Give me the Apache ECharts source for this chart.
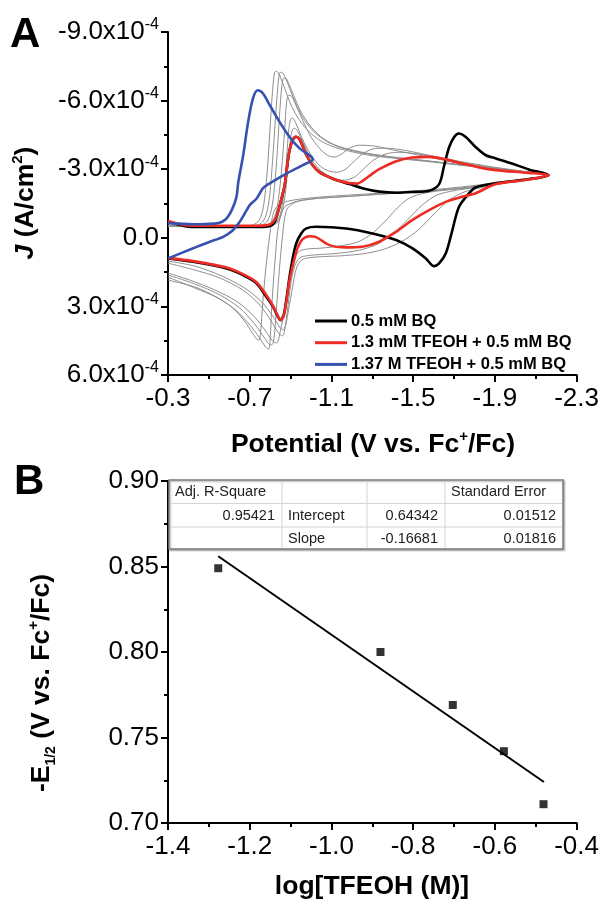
<!DOCTYPE html>
<html><head><meta charset="utf-8">
<script src="https://cdn.jsdelivr.net/npm/echarts@6/dist/echarts.min.js"></script>
<style>html,body{margin:0;padding:0;background:#fff}#c{width:602px;height:904px}</style>
</head><body><div id="c"></div>
<script>
const FONT = '"Liberation Sans", Arial, Helvetica, sans-serif';

// ---------- Panel A: cyclic voltammograms ----------
// [E (V vs. Fc+/Fc), J (x10^-4 A/cm^2)]
const cvXTicks = [-0.3, -0.7, -1.1, -1.5, -1.9, -2.3];
const cvXMinor = [-0.5, -0.9, -1.3, -1.7, -2.1];

const black05BQ = [
[-0.300,-0.70],[-0.383,-0.51],[-0.456,-0.47],[-0.602,-0.47],[-0.749,-0.47],[-0.798,-0.51],[-0.822,-0.69],[-0.841,-1.21],[-0.856,-1.73],[-0.871,-2.30],[-0.885,-3.26],[-0.895,-3.83],[-0.910,-4.27],[-0.927,-4.42],[-0.944,-4.31],[-0.959,-4.01],[-0.978,-3.61],[-1.007,-3.18],[-1.041,-2.87],[-1.090,-2.65],[-1.139,-2.48],[-1.188,-2.35],[-1.251,-2.17],[-1.334,-2.02],[-1.417,-1.97],[-1.495,-2.00],[-1.578,-2.06],[-1.627,-2.35],[-1.651,-3.13],[-1.676,-3.96],[-1.700,-4.40],[-1.724,-4.56],[-1.759,-4.40],[-1.807,-3.96],[-1.856,-3.61],[-1.905,-3.47],[-1.983,-3.25],[-2.066,-2.99],[-2.163,-2.74],
[-2.066,-2.56],[-1.905,-2.39],[-1.807,-2.21],[-1.773,-1.94],[-1.724,-1.35],[-1.692,-0.34],[-1.660,0.68],[-1.627,1.12],[-1.602,1.24],[-1.562,0.90],[-1.497,0.46],[-1.416,0.10],[-1.301,-0.19],[-1.172,-0.41],[-1.025,-0.48],[-0.977,-0.41],[-0.952,-0.19],[-0.928,0.24],[-0.912,0.83],[-0.895,1.70],[-0.879,2.72],[-0.866,3.38],[-0.850,3.60],[-0.838,3.45],[-0.814,3.01],[-0.781,2.58],[-0.733,1.99],[-0.667,1.63],[-0.586,1.34],[-0.423,1.05],[-0.301,0.90]
];

const red13TFEOH = [
[-0.300,-0.73],[-0.383,-0.55],[-0.456,-0.53],[-0.602,-0.53],[-0.749,-0.53],[-0.798,-0.58],[-0.822,-0.77],[-0.841,-1.21],[-0.856,-1.73],[-0.871,-2.30],[-0.885,-3.26],[-0.895,-3.83],[-0.910,-4.27],[-0.927,-4.42],[-0.944,-4.31],[-0.959,-4.01],[-0.978,-3.61],[-1.007,-3.18],[-1.041,-2.87],[-1.090,-2.65],[-1.139,-2.48],[-1.188,-2.39],[-1.227,-2.37],[-1.251,-2.48],[-1.285,-2.70],[-1.334,-3.00],[-1.417,-3.35],[-1.495,-3.51],[-1.578,-3.54],[-1.660,-3.43],[-1.740,-3.25],[-1.822,-3.08],[-1.903,-2.96],[-2.066,-2.84],[-2.163,-2.74],
[-2.066,-2.55],[-1.905,-2.35],[-1.806,-1.95],[-1.739,-1.79],[-1.660,-1.57],[-1.578,-1.21],[-1.495,-0.77],[-1.416,-0.26],[-1.334,0.17],[-1.251,0.39],[-1.172,0.42],[-1.090,0.32],[-1.025,-0.03],[-0.993,-0.07],[-0.959,0.06],[-0.934,0.45],[-0.915,1.06],[-0.895,1.85],[-0.879,2.81],[-0.866,3.42],[-0.851,3.60],[-0.838,3.42],[-0.814,2.98],[-0.781,2.50],[-0.733,1.94],[-0.667,1.59],[-0.586,1.30],[-0.423,1.02],[-0.301,0.89]
];

const blue137TFEOH = [
[-0.300,-0.64],[-0.422,-0.59],[-0.529,-0.62],[-0.563,-0.69],[-0.588,-0.86],[-0.612,-1.21],[-0.635,-1.78],[-0.644,-2.43],[-0.668,-3.61],[-0.692,-5.05],[-0.716,-6.10],[-0.740,-6.45],[-0.765,-6.31],[-0.798,-5.80],[-0.846,-5.07],[-0.895,-4.41],[-0.944,-3.91],[-1.009,-3.44],
[-0.960,-3.18],[-0.879,-2.81],[-0.798,-2.38],[-0.765,-2.17],[-0.734,-1.72],[-0.700,-1.43],[-0.685,-1.21],[-0.651,-0.70],[-0.619,-0.34],[-0.570,-0.04],[-0.505,0.17],[-0.423,0.46],[-0.301,0.90]
];

const grey1 = [
[-0.300,-0.51],[-0.456,-0.51],[-0.651,-0.51],[-0.710,-0.55],[-0.739,-0.69],[-0.759,-1.04],[-0.773,-1.73],[-0.788,-3.18],[-0.802,-5.14],[-0.812,-6.45],[-0.822,-7.24],[-0.832,-7.28],[-0.846,-7.11],[-0.871,-6.54],[-0.905,-5.75],[-0.944,-5.14],[-0.993,-4.62],[-1.051,-4.22],[-1.115,-3.96],[-1.188,-3.79],[-1.285,-3.61],[-1.407,-3.48],[-1.554,-3.35],[-1.724,-3.18],[-1.920,-3.00],[-2.066,-2.87],[-2.163,-2.74],
[-2.066,-2.61],[-1.920,-2.43],[-1.773,-2.26],[-1.627,-2.13],[-1.480,-2.04],[-1.334,-1.95],[-1.188,-1.87],[-1.041,-1.78],[-0.944,-1.69],[-0.885,-1.60],[-0.846,-1.47],[-0.817,-1.12],[-0.798,-0.12],[-0.778,1.41],[-0.763,2.94],[-0.754,4.03],[-0.746,4.47],[-0.734,4.43],[-0.710,4.12],[-0.671,3.60],[-0.612,3.03],[-0.529,2.55],[-0.432,2.15],[-0.300,1.85]
];
const grey2 = [
[-0.300,-0.51],[-0.456,-0.51],[-0.676,-0.51],[-0.734,-0.55],[-0.763,-0.69],[-0.783,-1.08],[-0.798,-1.87],[-0.812,-3.39],[-0.827,-5.36],[-0.837,-6.54],[-0.846,-7.20],[-0.856,-7.24],[-0.871,-7.06],[-0.895,-6.54],[-0.929,-5.80],[-0.968,-5.14],[-1.017,-4.62],[-1.076,-4.22],[-1.139,-3.96],[-1.212,-3.79],[-1.310,-3.61],[-1.432,-3.48],[-1.578,-3.35],[-1.749,-3.18],[-1.920,-3.00],[-2.066,-2.87],[-2.163,-2.74],
[-2.066,-2.59],[-1.920,-2.39],[-1.773,-2.21],[-1.627,-2.08],[-1.480,-2.00],[-1.334,-1.91],[-1.188,-1.82],[-1.041,-1.73],[-0.959,-1.65],[-0.905,-1.52],[-0.866,-1.30],[-0.841,-0.55],[-0.822,1.20],[-0.807,3.16],[-0.800,4.47],[-0.793,4.86],[-0.778,4.78],[-0.749,4.38],[-0.700,3.81],[-0.632,3.16],[-0.544,2.63],[-0.432,2.20],[-0.300,1.72]
];
const grey3 = [
[-0.300,-0.51],[-0.480,-0.51],[-0.700,-0.51],[-0.754,-0.55],[-0.783,-0.69],[-0.802,-1.08],[-0.817,-1.87],[-0.832,-3.39],[-0.846,-5.36],[-0.856,-6.54],[-0.866,-6.98],[-0.876,-6.98],[-0.890,-6.76],[-0.915,-6.23],[-0.949,-5.54],[-0.993,-4.93],[-1.046,-4.44],[-1.110,-4.09],[-1.183,-3.88],[-1.276,-3.70],[-1.407,-3.53],[-1.568,-3.37],[-1.749,-3.18],[-1.920,-3.00],[-2.066,-2.87],[-2.163,-2.74],
[-2.066,-2.58],[-1.920,-2.38],[-1.773,-2.21],[-1.627,-2.08],[-1.480,-1.99],[-1.334,-1.90],[-1.188,-1.81],[-1.041,-1.73],[-0.963,-1.64],[-0.915,-1.52],[-0.880,-1.21],[-0.861,-0.12],[-0.841,1.85],[-0.827,3.60],[-0.815,4.60],[-0.802,4.69],[-0.773,4.38],[-0.724,3.77],[-0.651,3.07],[-0.554,2.50],[-0.432,2.02],[-0.300,1.63]
];
const grey4 = [
[-0.300,-0.51],[-0.505,-0.51],[-0.724,-0.51],[-0.778,-0.55],[-0.807,-0.69],[-0.827,-1.04],[-0.841,-1.73],[-0.856,-2.96],[-0.871,-4.71],[-0.880,-5.89],[-0.890,-6.23],[-0.905,-6.19],[-0.924,-5.84],[-0.959,-5.14],[-0.998,-4.44],[-1.041,-3.92],[-1.080,-3.61],[-1.115,-3.53],[-1.149,-3.66],[-1.188,-3.92],[-1.237,-4.05],[-1.310,-4.01],[-1.407,-3.83],[-1.554,-3.57],[-1.724,-3.26],[-1.920,-3.00],[-2.066,-2.87],[-2.163,-2.74],
[-2.066,-2.56],[-1.920,-2.37],[-1.773,-2.19],[-1.651,-2.08],[-1.554,-1.95],[-1.480,-1.73],[-1.422,-1.30],[-1.359,-0.69],[-1.295,-0.16],[-1.227,0.19],[-1.139,0.36],[-1.051,0.45],[-0.983,0.49],[-0.944,0.58],[-0.920,0.89],[-0.900,1.63],[-0.876,2.94],[-0.851,4.03],[-0.832,4.60],[-0.812,4.51],[-0.778,4.08],[-0.724,3.46],[-0.641,2.81],[-0.529,2.28],[-0.407,1.85],[-0.300,1.54]
];
const grey5 = [
[-0.300,-0.51],[-0.529,-0.51],[-0.759,-0.51],[-0.807,-0.55],[-0.832,-0.69],[-0.851,-1.08],[-0.866,-1.87],[-0.880,-3.39],[-0.890,-4.62],[-0.900,-5.19],[-0.910,-5.23],[-0.924,-5.05],[-0.944,-4.62],[-0.973,-4.05],[-1.007,-3.53],[-1.046,-3.13],[-1.090,-2.91],[-1.129,-2.87],[-1.168,-3.00],[-1.207,-3.31],[-1.251,-3.66],[-1.300,-3.88],[-1.368,-3.92],[-1.456,-3.83],[-1.578,-3.61],[-1.724,-3.35],[-1.895,-3.09],[-2.041,-2.91],[-2.163,-2.74],
[-2.066,-2.56],[-1.920,-2.37],[-1.798,-2.19],[-1.700,-2.06],[-1.617,-1.87],[-1.544,-1.43],[-1.471,-0.77],[-1.398,-0.16],[-1.324,0.28],[-1.237,0.54],[-1.139,0.67],[-1.051,0.73],[-0.983,0.78],[-0.944,0.89],[-0.920,1.24],[-0.900,2.07],[-0.885,3.16],[-0.871,4.03],[-0.861,4.29],[-0.841,4.16],[-0.802,3.60],[-0.749,2.94],[-0.666,2.28],[-0.554,1.76],[-0.432,1.41],[-0.300,1.11]
];
const grey6 = [
[-0.300,-0.53],[-0.554,-0.53],[-0.778,-0.53],[-0.822,-0.58],[-0.841,-0.73],[-0.861,-1.21],[-0.876,-2.08],[-0.890,-3.39],[-0.900,-4.36],[-0.910,-4.75],[-0.920,-4.79],[-0.934,-4.66],[-0.959,-4.22],[-0.988,-3.66],[-1.027,-3.13],[-1.071,-2.78],[-1.120,-2.56],[-1.168,-2.52],[-1.212,-2.65],[-1.256,-3.00],[-1.305,-3.39],[-1.363,-3.66],[-1.432,-3.74],[-1.529,-3.66],[-1.676,-3.39],[-1.846,-3.13],[-2.017,-2.91],[-2.163,-2.74],
[-2.066,-2.56],[-1.920,-2.35],[-1.822,-2.17],[-1.749,-2.00],[-1.676,-1.65],[-1.602,-1.04],[-1.529,-0.38],[-1.456,0.10],[-1.373,0.45],[-1.276,0.67],[-1.163,0.78],[-1.066,0.82],[-0.993,0.87],[-0.954,0.97],[-0.929,1.32],[-0.910,2.15],[-0.890,3.16],[-0.876,3.81],[-0.863,4.03],[-0.846,3.90],[-0.812,3.42],[-0.759,2.81],[-0.676,2.20],[-0.563,1.67],[-0.432,1.24],[-0.300,1.02]
];

// ---------- Panel B: -E1/2 vs log[TFEOH] ----------
const logTFEOH = [-1.277, -0.880, -0.703, -0.578, -0.481];
const negE12 = [0.849, 0.800, 0.769, 0.742, 0.711];
const fitLineEnds = [[-1.277, 0.856], [-0.480, 0.724]];
const fitTable = [
  ['Adj. R-Square', '', '', 'Standard Error'],
  ['0.95421', 'Intercept', '0.64342', '0.01512'],
  ['', 'Slope', '-0.16681', '0.01816']
];

const legendNames = ['0.5 mM BQ', '1.3 mM TFEOH + 0.5 mM BQ', '1.37 M TFEOH + 0.5 mM BQ'];

const chart = echarts.init(document.getElementById('c'), null, {renderer: 'canvas'});

const axisLineStyle = {color: '#000', width: 2};
const tickLabel = {color: '#000', fontSize: 26, fontFamily: FONT};

function greySeries(name, data) {
  return {name, type: 'line', xAxisIndex: 0, yAxisIndex: 0, data, showSymbol: false, symbol: 'none',
    smooth: 0.3, lineStyle: {color: '#8e8e8e', width: 1}, z: 2, silent: true};
}
function mainSeries(name, data, color, z) {
  return {name, type: 'line', xAxisIndex: 0, yAxisIndex: 0, data, showSymbol: false, symbol: 'none',
    smooth: 0.3, lineStyle: {color, width: 2.6}, itemStyle: {color}, z};
}

// table graphics
const colX = [169, 282, 367, 445, 563];
const rowY = [480, 503.5, 527, 549];
const tableEls = [];
tableEls.push({type: 'rect', shape: {x: colX[0], y: rowY[0], width: colX[4] - colX[0], height: rowY[3] - rowY[0]},
  style: {fill: '#fff', stroke: '#808080', lineWidth: 1.5, shadowBlur: 2, shadowOffsetX: 1, shadowOffsetY: 1, shadowColor: 'rgba(0,0,0,0.35)'}, z: 10});
for (let r = 1; r < 3; r++) tableEls.push({type: 'line', shape: {x1: colX[0] + 1, y1: rowY[r], x2: colX[4] - 1, y2: rowY[r]}, style: {stroke: '#d4d4d4', lineWidth: 1}, z: 11});
for (let c = 1; c < 4; c++) tableEls.push({type: 'line', shape: {x1: colX[c], y1: rowY[0] + 1, x2: colX[c], y2: rowY[3] - 1}, style: {stroke: '#d4d4d4', lineWidth: 1}, z: 11});
fitTable.forEach((row, r) => {
  row.forEach((txt, c) => {
    if (!txt) return;
    const leftAligned = (r === 0) || c === 1;
    const x = leftAligned ? colX[c] + 6 : colX[c + 1] - 7;
    tableEls.push({type: 'text', x, y: (rowY[r] + rowY[r + 1]) / 2 + 0.5, z: 12,
      style: {text: txt, fontSize: 14.5, fontFamily: FONT, fill: '#222', align: leftAligned ? 'left' : 'right', verticalAlign: 'middle'}});
  });
});

const titleRich = {
  t: {fontSize: 26.5, fontWeight: 'bold', fontFamily: FONT, fill: '#000', lineHeight: 32},
  i: {fontSize: 26.5, fontWeight: 'bold', fontStyle: 'italic', fontFamily: FONT, fill: '#000', lineHeight: 32},
  sup: {fontSize: 15, fontWeight: 'bold', fontFamily: FONT, fill: '#000', lineHeight: 18, verticalAlign: 'top'},
  sub: {fontSize: 14, fontWeight: 'bold', fontFamily: FONT, fill: '#000', lineHeight: 15, verticalAlign: 'bottom'}
};

const textEls = [
  {type: 'text', x: 10, y: 35, style: {text: 'A', fontSize: 42, fontWeight: 'bold', fontFamily: FONT, fill: '#000', align: 'left', verticalAlign: 'middle'}},
  {type: 'text', x: 14, y: 482, style: {text: 'B', fontSize: 42, fontWeight: 'bold', fontFamily: FONT, fill: '#000', align: 'left', verticalAlign: 'middle'}},
  {type: 'text', x: 373, y: 445, style: {text: '{t|Potential (V vs. Fc}{sup|+}{t|/Fc)}', rich: titleRich, align: 'center', verticalAlign: 'middle'}},
  {type: 'text', x: 372, y: 887, style: {text: '{t|log[TFEOH (M)]}', rich: titleRich, align: 'center', verticalAlign: 'middle'}},
  {type: 'text', x: 26, y: 203, rotation: Math.PI / 2, style: {text: '{i|J}{t| (A/cm}{sup|2}{t|)}', rich: titleRich, align: 'center', verticalAlign: 'middle'}},
  {type: 'text', x: 42, y: 683, rotation: Math.PI / 2, style: {text: '{t|-E}{sub|1/2}{t| (V vs. Fc}{sup|+}{t|/Fc)}', rich: titleRich, align: 'center', verticalAlign: 'middle'}}
];

const option = {
  animation: false,
  backgroundColor: '#fff',
  textStyle: {fontFamily: FONT},
  grid: [
    {left: 168, top: 32, width: 410, height: 343},
    {left: 168, top: 481, width: 409, height: 342}
  ],
  legend: {
    data: legendNames, orient: 'vertical', left: 310, top: 307, icon: 'rect',
    itemWidth: 32, itemHeight: 3, itemGap: 3.7, selectedMode: false,
    textStyle: {fontSize: 16.5, fontWeight: 'bold', color: '#000', fontFamily: FONT, lineHeight: 18, padding: [0, 0, 0, -1]}
  },
  xAxis: [
    {gridIndex: 0, type: 'value', position: 'bottom', min: -2.3, max: -0.3, inverse: true,
      axisLine: {onZero: false, lineStyle: axisLineStyle},
      axisTick: {customValues: cvXTicks, length: 7, lineStyle: {color: '#000', width: 2}},
      axisLabel: Object.assign({customValues: cvXTicks, margin: 11, formatter: v => v.toFixed(1)}, tickLabel),
      splitLine: {show: false}},
    {gridIndex: 0, type: 'value', position: 'bottom', min: -2.3, max: -0.3, inverse: true,
      axisLine: {show: false, onZero: false},
      axisTick: {customValues: cvXMinor, length: 4, lineStyle: {color: '#000', width: 2}},
      axisLabel: {show: false}, splitLine: {show: false}},
    {gridIndex: 1, type: 'value', position: 'bottom', min: -1.4, max: -0.4, interval: 0.2,
      axisLine: {onZero: false, lineStyle: axisLineStyle},
      axisTick: {length: 7, lineStyle: {color: '#000', width: 2}},
      minorTick: {show: true, splitNumber: 2, length: 4, lineStyle: {color: '#000', width: 2}},
      axisLabel: Object.assign({margin: 11, formatter: v => v.toFixed(1)}, tickLabel),
      splitLine: {show: false}}
  ],
  yAxis: [
    {gridIndex: 0, type: 'value', min: -9, max: 6, interval: 3, inverse: true,
      axisLine: {show: true, onZero: false, lineStyle: axisLineStyle},
      axisTick: {show: true, length: 7, lineStyle: {color: '#000', width: 2}},
      minorTick: {show: true, splitNumber: 2, length: 4, lineStyle: {color: '#000', width: 2}},
      axisLabel: {margin: 9, color: '#000',
        formatter: v => v === 0 ? '{b|0.0}' : '{b|' + v.toFixed(1) + 'x10}{s|-4}',
        rich: {b: {fontSize: 26, fontFamily: FONT, color: '#000', lineHeight: 30},
               s: {fontSize: 16, fontFamily: FONT, color: '#000', lineHeight: 18, verticalAlign: 'top'}}},
      splitLine: {show: false}},
    {gridIndex: 1, type: 'value', min: 0.70, max: 0.90, interval: 0.05,
      axisLine: {show: true, onZero: false, lineStyle: axisLineStyle},
      axisTick: {show: true, length: 7, lineStyle: {color: '#000', width: 2}},
      minorTick: {show: true, splitNumber: 2, length: 4, lineStyle: {color: '#000', width: 2}},
      axisLabel: Object.assign({margin: 9, formatter: v => v.toFixed(2)}, tickLabel),
      splitLine: {show: false}}
  ],
  series: [
    greySeries('g1', grey1), greySeries('g2', grey2), greySeries('g3', grey3),
    greySeries('g4', grey4), greySeries('g5', grey5), greySeries('g6', grey6),
    mainSeries(legendNames[0], black05BQ, '#000000', 3),
    mainSeries(legendNames[1], red13TFEOH, '#ee2b24', 4),
    mainSeries(legendNames[2], blue137TFEOH, '#3651b0', 5),
    {name: 'fit', type: 'line', xAxisIndex: 2, yAxisIndex: 1, data: fitLineEnds, symbol: 'none', showSymbol: false,
      lineStyle: {color: '#000', width: 2}, z: 3},
    {name: 'E12', type: 'scatter', xAxisIndex: 2, yAxisIndex: 1, data: logTFEOH.map((x, i) => [x, negE12[i]]),
      symbol: 'rect', symbolSize: [8, 8], itemStyle: {color: '#000'}, z: 4}
  ],
  graphic: {elements: tableEls.concat(textEls)}
};
chart.setOption(option);
</script>
</body></html>
